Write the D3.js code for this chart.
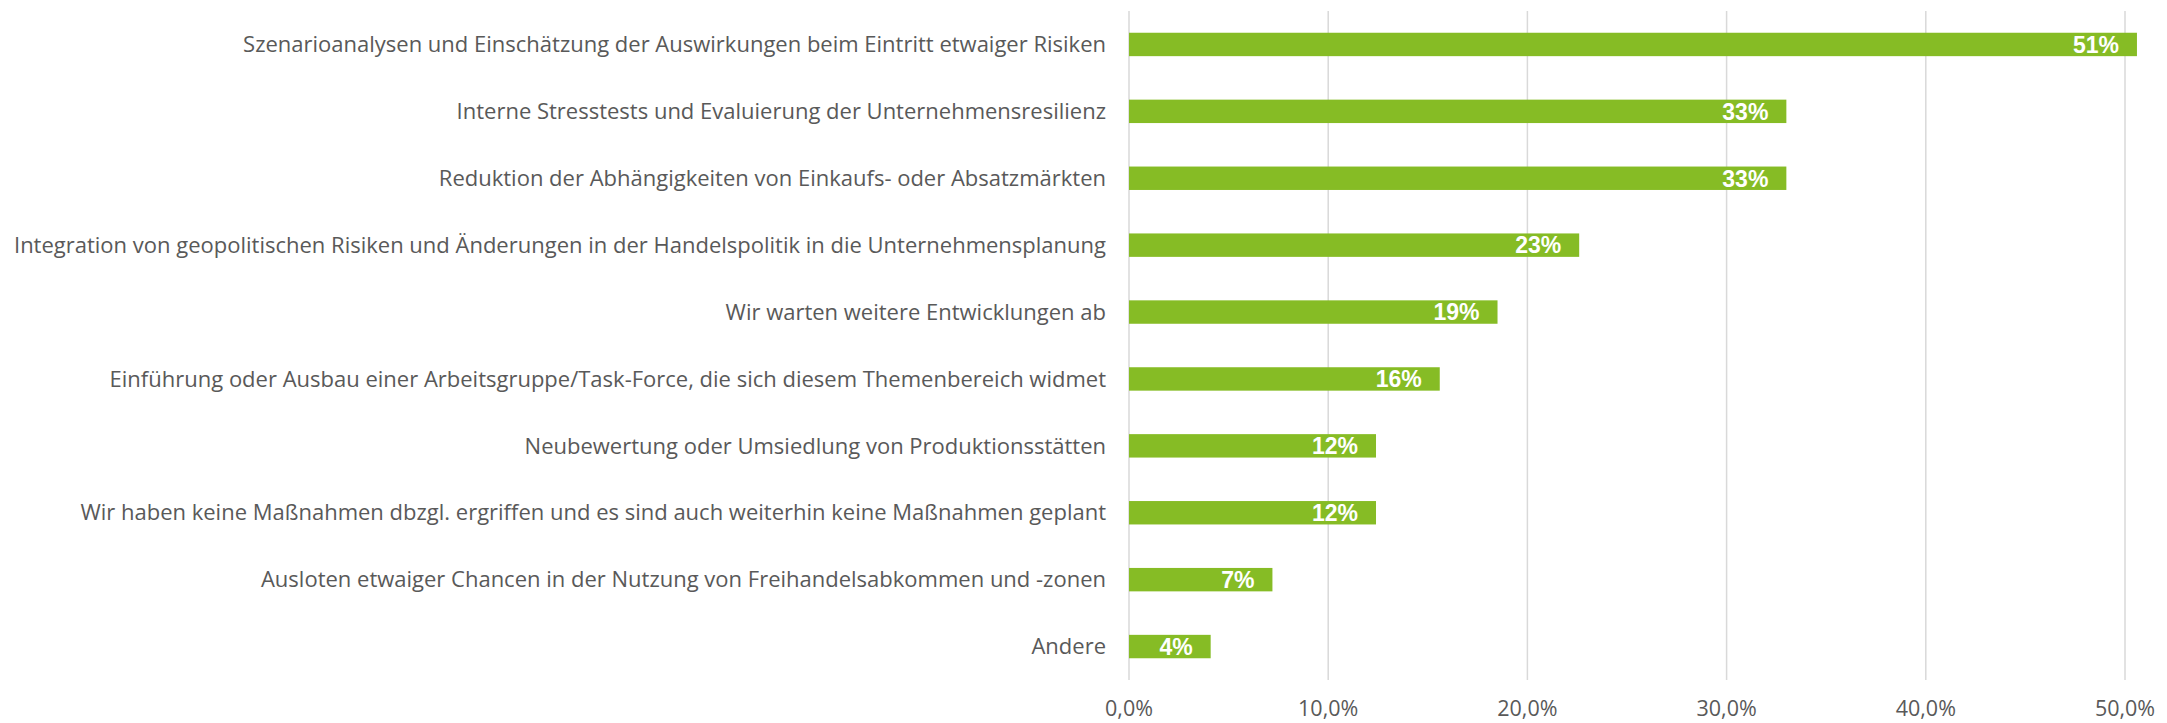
<!DOCTYPE html>
<html>
<head>
<meta charset="utf-8">
<script src="https://cdn.jsdelivr.net/npm/d3@7"></script>
<style>
  html, body { margin: 0; padding: 0; background: #fff; }
  svg { display: block; }
</style>
</head>
<body>
<svg id="chart"></svg>
<script>
const categories = [
    "Szenarioanalysen und Einschätzung der Auswirkungen beim Eintritt etwaiger Risiken",
    "Interne Stresstests und Evaluierung der Unternehmensresilienz",
    "Reduktion der Abhängigkeiten von Einkaufs- oder Absatzmärkten",
    "Integration von geopolitischen Risiken und Änderungen in der Handelspolitik in die Unternehmensplanung",
    "Wir warten weitere Entwicklungen ab",
    "Einführung oder Ausbau einer Arbeitsgruppe/Task-Force, die sich diesem Themenbereich widmet",
    "Neubewertung oder Umsiedlung von Produktionsstätten",
    "Wir haben keine Maßnahmen dbzgl. ergriffen und es sind auch weiterhin keine Maßnahmen geplant",
    "Ausloten etwaiger Chancen in der Nutzung von Freihandelsabkommen und -zonen",
    "Andere"
];
const values = [50.6, 33.0, 33.0, 22.6, 18.5, 15.6, 12.4, 12.4, 7.2, 4.1];
const ticks = [0, 10, 20, 30, 40, 50];

const width = 2167, height = 723;
const margin = {top: 11, right: 42, bottom: 43, left: 1129};

const svg = d3.select("#chart")
    .attr("width", width)
    .attr("height", height);

const x = d3.scaleLinear()
    .domain([0, 50])
    .range([margin.left, margin.left + 996]);

const y = d3.scaleBand()
    .domain(categories)
    .range([margin.top, height - margin.bottom])
    .paddingInner(0.65)
    .paddingOuter(0.325);

// gridlines
svg.append("g")
    .selectAll("line")
    .data(ticks)
    .join("line")
    .attr("x1", d => x(d))
    .attr("x2", d => x(d))
    .attr("y1", margin.top)
    .attr("y2", height - margin.bottom)
    .attr("stroke", "#d9d9d9")
    .attr("stroke-width", 1.5);

// tick labels
svg.append("g")
    .selectAll("text")
    .data(ticks)
    .join("text")
    .attr("x", d => x(d))
    .attr("y", 716)
    .attr("text-anchor", "middle")
    .attr("font-family", "Open Sans, sans-serif")
    .attr("font-size", 21.5)
    .attr("fill", "#595959")
    .text(d => d.toFixed(1).replace(".", ",") + "%");

// bars
svg.append("g")
    .selectAll("rect")
    .data(values)
    .join("rect")
    .attr("x", x(0))
    .attr("y", (d, i) => y(categories[i]))
    .attr("width", d => x(d) - x(0))
    .attr("height", y.bandwidth())
    .attr("fill", "#86bc25");

// value labels
svg.append("g")
    .selectAll("text")
    .data(values)
    .join("text")
    .attr("x", d => x(d) - 18)
    .attr("y", (d, i) => y(categories[i]) + y.bandwidth() / 2)
    .attr("dy", "0.36em")
    .attr("text-anchor", "end")
    .attr("font-family", "Liberation Sans, Arial, sans-serif")
    .attr("font-weight", "bold")
    .attr("font-size", 23)
    .attr("fill", "#fff")
    .text(d => Math.round(d) + "%");

// category labels
svg.append("g")
    .selectAll("text")
    .data(categories)
    .join("text")
    .attr("x", margin.left - 23)
    .attr("y", d => y(d) + y.bandwidth() / 2)
    .attr("dy", "0.35em")
    .attr("text-anchor", "end")
    .attr("font-family", "Open Sans, sans-serif")
    .attr("font-size", 22)
    .attr("fill", "#595959")
    .text(d => d);
</script>
</body>
</html>
